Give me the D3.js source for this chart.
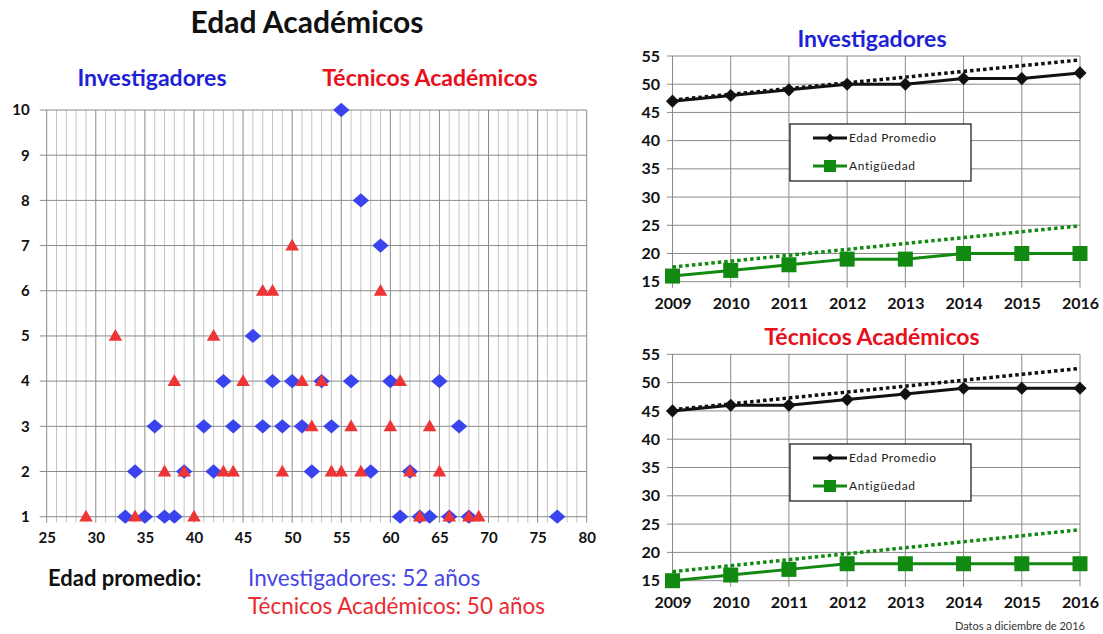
<!DOCTYPE html>
<meta charset="utf-8">
<style>
    body { margin: 0; background: #fff; }
    svg text { font-family: Lato, "Open Sans", sans-serif; }
    .tick text { font-weight: bold; fill: #111; }
</style>
<svg width="1103" height="634"></svg>
<script src="https://cdn.jsdelivr.net/npm/d3@7"></script>
<script>
    // scatter: edad (x) vs. número de académicos (y)
    var invAges   = [55, 57, 59, 46, 43, 48, 50, 53, 56, 60, 65, 36, 41, 44, 47, 49, 51, 54, 67, 34, 39, 42, 52, 58, 62, 33, 35, 37, 38, 61, 63, 64, 66, 68, 77];
    var invCounts = [10, 8, 7, 5, 4, 4, 4, 4, 4, 4, 4, 3, 3, 3, 3, 3, 3, 3, 3, 2, 2, 2, 2, 2, 2, 1, 1, 1, 1, 1, 1, 1, 1, 1, 1];
    var tecAges   = [50, 47, 48, 59, 32, 42, 38, 45, 51, 53, 61, 52, 56, 60, 64, 37, 39, 43, 44, 49, 54, 55, 57, 62, 65, 29, 34, 40, 63, 66, 68, 69];
    var tecCounts = [7, 6, 6, 6, 5, 5, 4, 4, 4, 4, 4, 3, 3, 3, 3, 2, 2, 2, 2, 2, 2, 2, 2, 2, 2, 1, 1, 1, 1, 1, 1, 1];
    var scatterXTicks = [25, 30, 35, 40, 45, 50, 55, 60, 65, 70, 75, 80];
    var scatterYTicks = [1, 2, 3, 4, 5, 6, 7, 8, 9, 10];

    // series por año
    var years = [2009, 2010, 2011, 2012, 2013, 2014, 2015, 2016];
    var invEdadProm = [47, 48, 49, 50, 50, 51, 51, 52];
    var invAntig    = [16, 17, 18, 19, 19, 20, 20, 20];
    var tecEdadProm = [45, 46, 46, 47, 48, 49, 49, 49];
    var tecAntig    = [15, 16, 17, 18, 18, 18, 18, 18];
    // líneas de tendencia (valor en 2009 y en 2016)
    var invEdadTrend  = [47.2, 54.3];
    var invAntigTrend = [17.6, 24.9];
    var tecEdadTrend  = [45.2, 52.5];
    var tecAntigTrend = [16.6, 24.0];
    var lineYTicks = [15, 20, 25, 30, 35, 40, 45, 50, 55];

    var svg = d3.select("svg"),
        blue = "#3a44ee",
        red = "#ee3434",
        green = "#128a12";

    // ---------- scatter ----------
    var x = d3.scaleLinear().domain([25, 80]).range([46.7, 586.7]),
        y = d3.scaleLinear().domain([1, 10]).range([516.7, 110]);

    var grid = svg.append("g");
    grid.selectAll("line.minor")
        .data(d3.range(25, 81))
        .enter().append("line")
        .attr("x1", function (d) { return x(d); })
        .attr("x2", function (d) { return x(d); })
        .attr("y1", y(10)).attr("y2", y(1) + 6)
        .attr("stroke", function (d) { return d % 5 === 0 ? "#8a8a8a" : "#c4c4c4"; })
        .attr("stroke-width", 1);
    grid.selectAll("line.h")
        .data(scatterYTicks)
        .enter().append("line")
        .attr("x1", x(25) - 7).attr("x2", x(80))
        .attr("y1", function (d) { return y(d); })
        .attr("y2", function (d) { return y(d); })
        .attr("stroke", "#8a8a8a");

    svg.append("g")
        .attr("transform", "translate(0," + (y(1) + 8) + ")")
        .call(d3.axisBottom(x).tickValues(scatterXTicks).tickSize(0).tickPadding(8))
        .call(function (g) { g.select(".domain").remove(); })
        .selectAll("text").style("font-size", "15px");
    svg.append("g")
        .attr("transform", "translate(" + (x(25) - 13) + ",0)")
        .call(d3.axisLeft(y).tickValues(scatterYTicks).tickSize(0).tickPadding(4))
        .call(function (g) { g.select(".domain").remove(); })
        .selectAll("text").style("font-size", "15px");

    svg.append("g").selectAll("path")
        .data(d3.zip(invAges, invCounts))
        .enter().append("path")
        .attr("d", d3.symbol(d3.symbolDiamond2, 130))
        .attr("transform", function (d) { return "translate(" + x(d[0]) + "," + y(d[1]) + ") scale(1.15,1)"; })
        .attr("fill", blue);
    svg.append("g").selectAll("path")
        .data(d3.zip(tecAges, tecCounts))
        .enter().append("path")
        .attr("d", d3.symbol(d3.symbolTriangle, 80))
        .attr("transform", function (d) { return "translate(" + x(d[0]) + "," + (y(d[1]) + 1) + ")"; })
        .attr("fill", red);

    svg.append("text").attr("x", 307).attr("y", 33).attr("text-anchor", "middle")
        .style("font-size", "30px").style("font-weight", "bold").attr("fill", "#111").text("Edad Académicos");
    svg.append("text").attr("x", 152).attr("y", 86).attr("text-anchor", "middle")
        .style("font-size", "23px").style("font-weight", "bold").attr("fill", "#1f1fd8").text("Investigadores");
    svg.append("text").attr("x", 430).attr("y", 86).attr("text-anchor", "middle")
        .style("font-size", "23px").style("font-weight", "bold").attr("fill", "#e8101c").text("Técnicos  Académicos");

    svg.append("text").attr("x", 48).attr("y", 586)
        .style("font-size", "22px").style("font-weight", "bold").attr("fill", "#111").text("Edad promedio:");
    svg.append("text").attr("x", 248).attr("y", 586)
        .style("font-size", "22.5px").attr("fill", "#4646e4").text("Investigadores: 52 años");
    svg.append("text").attr("x", 248).attr("y", 614)
        .style("font-size", "22.5px").attr("fill", "#ea2a30").text("Técnicos Académicos: 50 años");

    // ---------- gráficas de línea ----------
    function lineChart(top, bottom, title, titleColor, edad, antig, edadTrend, antigTrend, legendTop) {
        var lx = d3.scalePoint().domain(years).range([672.5, 1080]),
            ly = d3.scaleLinear().domain([15, 55]).range([bottom, top]),
            g = svg.append("g");

        g.selectAll("line.h").data(lineYTicks).enter().append("line")
            .attr("x1", 667).attr("x2", 1080)
            .attr("y1", function (d) { return ly(d); })
            .attr("y2", function (d) { return ly(d); })
            .attr("stroke", "#8a8a8a");
        g.selectAll("line.v").data(years).enter().append("line")
            .attr("x1", function (d) { return lx(d); })
            .attr("x2", function (d) { return lx(d); })
            .attr("y1", ly(55)).attr("y2", ly(15) + 6)
            .attr("stroke", "#8a8a8a");

        g.append("g")
            .attr("transform", "translate(0," + (ly(15) + 10) + ")")
            .call(d3.axisBottom(lx).tickSize(0).tickPadding(6))
            .call(function (a) { a.select(".domain").remove(); })
            .selectAll("text").style("font-size", "16px");
        g.append("g")
            .attr("transform", "translate(662,0)")
            .call(d3.axisLeft(ly).tickValues(lineYTicks).tickSize(0).tickPadding(2))
            .call(function (a) { a.select(".domain").remove(); })
            .selectAll("text").style("font-size", "16px");

        var line = d3.line()
            .x(function (d, i) { return lx(years[i]); })
            .y(function (d) { return ly(d); });
        var trend = d3.line()
            .x(function (d, i) { return lx(i === 0 ? years[0] : years[years.length - 1]); })
            .y(function (d) { return ly(d); });

        g.append("path").attr("d", trend(edadTrend)).attr("fill", "none")
            .attr("stroke", "#111").attr("stroke-width", 3.5).attr("stroke-dasharray", "3.5 3");
        g.append("path").attr("d", trend(antigTrend)).attr("fill", "none")
            .attr("stroke", green).attr("stroke-width", 3.5).attr("stroke-dasharray", "3.5 3");

        g.append("path").attr("d", line(edad)).attr("fill", "none")
            .attr("stroke", "#111").attr("stroke-width", 3);
        g.append("path").attr("d", line(antig)).attr("fill", "none")
            .attr("stroke", green).attr("stroke-width", 3);

        g.selectAll("path.d").data(edad).enter().append("path")
            .attr("d", d3.symbol(d3.symbolDiamond2, 110))
            .attr("transform", function (d, i) { return "translate(" + lx(years[i]) + "," + ly(d) + ")"; })
            .attr("fill", "#111");
        g.selectAll("rect.s").data(antig).enter().append("rect")
            .attr("x", function (d, i) { return lx(years[i]) - 7.5; })
            .attr("y", function (d) { return ly(d) - 7.5; })
            .attr("width", 15).attr("height", 15)
            .attr("fill", green);

        g.append("text").attr("x", 872).attr("y", top - 9).attr("text-anchor", "middle")
            .style("font-size", "23px").style("font-weight", "bold").attr("fill", titleColor).text(title);

        // leyenda
        var lg = g.append("g").attr("transform", "translate(790," + legendTop + ")");
        lg.append("rect").attr("width", 181).attr("height", 57)
            .attr("fill", "#fff").attr("stroke", "#111").attr("stroke-width", 1.2);
        lg.append("line").attr("x1", 23).attr("x2", 57).attr("y1", 14).attr("y2", 14)
            .attr("stroke", "#111").attr("stroke-width", 3);
        lg.append("path").attr("d", d3.symbol(d3.symbolDiamond2, 50))
            .attr("transform", "translate(40,14)").attr("fill", "#111");
        lg.append("text").attr("x", 59).attr("y", 18).style("font-size", "12px")
            .style("letter-spacing", "0.6px").attr("fill", "#222").text("Edad Promedio");
        lg.append("line").attr("x1", 23).attr("x2", 57).attr("y1", 42).attr("y2", 42)
            .attr("stroke", green).attr("stroke-width", 3);
        lg.append("rect").attr("x", 34).attr("y", 36).attr("width", 12).attr("height", 12).attr("fill", green);
        lg.append("text").attr("x", 59).attr("y", 46).style("font-size", "12px")
            .style("letter-spacing", "0.6px").attr("fill", "#222").text("Antigüedad");
    }

    lineChart(56, 281.7, "Investigadores", "#1f1fd8",
        invEdadProm, invAntig, invEdadTrend, invAntigTrend, 124);
    lineChart(354.3, 580.7, "Técnicos Académicos", "#e8101c",
        tecEdadProm, tecAntig, tecEdadTrend, tecAntigTrend, 444);

    svg.append("text").attr("x", 1085).attr("y", 630).attr("text-anchor", "end")
        .style("font-size", "11px").attr("fill", "#333").text("Datos a diciembre de 2016");
</script>
